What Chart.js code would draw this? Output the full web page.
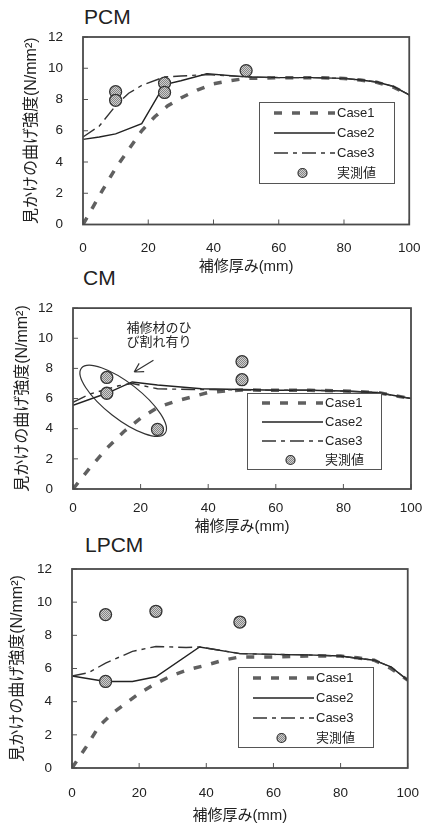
<!DOCTYPE html>
<html>
<head>
<meta charset="utf-8">
<script src="https://cdn.jsdelivr.net/npm/chart.js@4.4.0/dist/chart.umd.min.js"></script>
<style>
  html, body { margin: 0; padding: 0; background: #fff; }
  body { width: 436px; height: 825px; position: relative; overflow: hidden; }
  canvas { position: absolute; left: 0; }
  .ttl { position: absolute; font-family: 'Liberation Sans', Arial, sans-serif; font-size: 21px; line-height: 21px; color: #222; }
</style>
</head>
<body>
<div class="ttl" style="left:84px;top:6px">PCM</div>
<div class="ttl" style="left:83px;top:267px">CM</div>
<div class="ttl" style="left:85px;top:534px">LPCM</div>
<canvas id="c0" width="436" height="280" style="top:0px"></canvas>
<canvas id="c1" width="436" height="260" style="top:280px"></canvas>
<canvas id="c2" width="436" height="285" style="top:540px"></canvas>
<script>
// axis ticks
const xTicks = [0, 20, 40, 60, 80, 100];
const yTicks = [0, 2, 4, 6, 8, 10, 12];
const seriesNames = ['Case1', 'Case2', 'Case3', '実測値'];

// PCM
const pcmCase1X = [0, 3, 6, 10, 14, 18, 22, 26, 30, 35, 40, 45, 50, 60, 70, 80, 85, 90, 95, 100];
const pcmCase1Y = [0, 1.1, 2.2, 3.6, 4.8, 6.0, 6.9, 7.6, 8.1, 8.6, 9.0, 9.2, 9.35, 9.4, 9.4, 9.35, 9.25, 9.1, 8.8, 8.3];
const pcmCase2X = [0, 5, 10, 18, 25, 30, 38, 50, 60, 70, 80, 85, 90, 95, 100];
const pcmCase2Y = [5.45, 5.6, 5.8, 6.45, 8.95, 9.2, 9.65, 9.45, 9.4, 9.4, 9.35, 9.25, 9.12, 8.85, 8.3];
const pcmCase3X = [0, 5, 10, 14, 18, 25, 30, 38, 50, 60, 70, 80, 85, 90, 95, 100];
const pcmCase3Y = [5.6, 6.3, 7.6, 8.4, 8.9, 9.45, 9.5, 9.6, 9.45, 9.4, 9.4, 9.35, 9.25, 9.12, 8.85, 8.3];
const pcmTestX = [10, 10, 25, 25, 50];
const pcmTestY = [8.5, 7.95, 9.05, 8.45, 9.85];

// CM
const cmCase1X = [0, 5, 10, 15, 20, 25, 30, 35, 40, 45, 50, 60, 70, 80, 85, 90, 95, 100];
const cmCase1Y = [0, 1.4, 2.7, 3.8, 4.7, 5.4, 5.8, 6.1, 6.4, 6.5, 6.57, 6.55, 6.55, 6.5, 6.45, 6.4, 6.2, 6.0];
const cmCase2X = [0, 10, 17.5, 25, 38, 50, 60, 70, 80, 85, 90, 95, 100];
const cmCase2Y = [5.55, 6.35, 7.1, 6.9, 6.65, 6.6, 6.55, 6.55, 6.5, 6.45, 6.4, 6.2, 6.0];
const cmCase3X = [0, 5, 13.5, 17.5, 25, 35, 50, 60, 70, 80, 85, 90, 95, 100];
const cmCase3Y = [5.75, 6.3, 6.85, 7.0, 6.65, 6.6, 6.57, 6.55, 6.55, 6.5, 6.45, 6.4, 6.2, 6.0];
const cmTestX = [10, 10, 25, 50, 50];
const cmTestY = [7.4, 6.35, 3.95, 8.45, 7.25];

// LPCM
const lpcmCase1X = [0, 4, 8, 12, 16, 20, 25, 30, 35, 40, 45, 50, 60, 70, 80, 85, 90, 95, 100];
const lpcmCase1Y = [0, 1.2, 2.5, 3.3, 3.9, 4.5, 5.1, 5.6, 5.95, 6.2, 6.5, 6.7, 6.7, 6.75, 6.75, 6.65, 6.5, 6.0, 5.3];
const lpcmCase2X = [0, 10, 18, 25, 38, 50, 60, 70, 80, 85, 90, 95, 100];
const lpcmCase2Y = [5.55, 5.22, 5.22, 5.5, 7.3, 6.9, 6.85, 6.82, 6.75, 6.62, 6.5, 6.1, 5.3];
const lpcmCase3X = [0, 5, 10, 18, 25, 34, 38, 50, 60, 70, 80, 85, 90, 95, 100];
const lpcmCase3Y = [5.55, 5.75, 6.33, 7.03, 7.33, 7.27, 7.3, 6.9, 6.85, 6.82, 6.75, 6.62, 6.5, 6.1, 5.3];
const lpcmTestX = [10, 10, 25, 50];
const lpcmTestY = [9.25, 5.22, 9.45, 8.8];

const latin = "'Liberation Sans', Arial, 'Noto Sans CJK JP', sans-serif";
const jp = "'Liberation Sans', 'Noto Sans CJK JP', sans-serif";
const ink = '#222';

// speckled grey fill for the measured points
const patCanvas = document.createElement('canvas');
patCanvas.width = 2; patCanvas.height = 2;
const pc = patCanvas.getContext('2d');
pc.fillStyle = '#cfcfcf'; pc.fillRect(0, 0, 2, 2);
pc.fillStyle = '#858585'; pc.fillRect(0, 0, 1, 1); pc.fillRect(1, 1, 1, 1);
const dotFill = pc.createPattern(patCanvas, 'repeat');

const styles = [
  { borderColor: '#606060', borderWidth: 3.5, borderDash: [8, 10] },
  { borderColor: '#222', borderWidth: 1.4, borderDash: [] },
  { borderColor: '#333', borderWidth: 1.4, borderDash: [14, 5, 4, 5] },
];

const panels = [
  {
    id: 'c0', top: 0, height: 280,
    plot: { left: 83, right: 419, top: 37, bottom: 224.5 },
    xLabelY: 248, xTitleY: 267, yTitleX: 32,
    lines: [[pcmCase1X, pcmCase1Y], [pcmCase2X, pcmCase2Y], [pcmCase3X, pcmCase3Y]],
    test: [pcmTestX, pcmTestY],
    legend: { x: 259, y: 102, w: 135, h: 81, first: 11, row: 20 },
  },
  {
    id: 'c1', top: 280, height: 260,
    plot: { left: 73, right: 411, top: 301, bottom: 489 },
    xLabelY: 508, xTitleY: 527, yTitleX: 23,
    lines: [[cmCase1X, cmCase1Y], [cmCase2X, cmCase2Y], [cmCase3X, cmCase3Y]],
    test: [cmTestX, cmTestY],
    legend: { x: 247, y: 113, w: 134, h: 76, first: 10, row: 19 },
    note: {
      text: ['補修材のひ', 'び割れ有り'], textAt: [15.8, 10.77], lineGap: 14,
      ellipse: { at: [14.85, 5.85], rx: 53, ry: 18, rot: 38 },
      arrow: { from: [23.8, 8.54], to: [18.1, 7.76] },
    },
  },
  {
    id: 'c2', top: 540, height: 285,
    plot: { left: 72, right: 409, top: 569, bottom: 768 },
    xLabelY: 793, xTitleY: 817, yTitleX: 18,
    lines: [[lpcmCase1X, lpcmCase1Y], [lpcmCase2X, lpcmCase2Y], [lpcmCase3X, lpcmCase3Y]],
    test: [lpcmTestX, lpcmTestY],
    legend: { x: 238, y: 127, w: 135, h: 80, first: 11, row: 20 },
  },
];

const toPts = (xs, ys) => xs.map((x, i) => ({ x: x, y: ys[i] }));

function decor(p) {
  return {
    id: 'decor',
    afterDatasetsDraw(chart) {
      const ctx = chart.ctx;
      const a = chart.chartArea;
      const sx = chart.scales.x, sy = chart.scales.y;
      ctx.save();
      // inward tick marks
      ctx.strokeStyle = '#555';
      ctx.lineWidth = 1;
      ctx.beginPath();
      yTicks.forEach(v => {
        const y = sy.getPixelForValue(v);
        ctx.moveTo(a.left, y); ctx.lineTo(a.left + 5, y);
      });
      xTicks.forEach(v => {
        const x = sx.getPixelForValue(v);
        ctx.moveTo(x, a.bottom); ctx.lineTo(x, a.bottom - 5);
      });
      ctx.stroke();
      // frame
      ctx.strokeStyle = '#4a4a4a';
      ctx.lineWidth = 1.8;
      ctx.strokeRect(a.left, a.top, a.right - a.left, a.bottom - a.top);

      // legend
      const L = p.legend;
      ctx.fillStyle = '#fff';
      ctx.fillRect(L.x, L.y, L.w, L.h);
      ctx.strokeStyle = '#555';
      ctx.lineWidth = 1;
      ctx.strokeRect(L.x + 0.5, L.y + 0.5, L.w, L.h);
      ctx.font = '13px ' + latin;
      ctx.textBaseline = 'middle';
      ctx.textAlign = 'left';
      seriesNames.forEach((name, i) => {
        const y = L.y + L.first + i * L.row;
        const x0 = L.x + 15, x1 = L.x + 76;
        if (i < 3) {
          const s = styles[i];
          ctx.strokeStyle = s.borderColor;
          ctx.lineWidth = s.borderWidth;
          ctx.setLineDash(s.borderDash);
          ctx.beginPath(); ctx.moveTo(x0, y); ctx.lineTo(x1, y); ctx.stroke();
          ctx.setLineDash([]);
        } else {
          ctx.beginPath();
          ctx.arc((x0 + x1) / 2 - 2, y, 4.5, 0, Math.PI * 2);
          ctx.fillStyle = dotFill; ctx.fill();
          ctx.strokeStyle = '#333'; ctx.lineWidth = 1.2; ctx.stroke();
        }
        ctx.fillStyle = ink;
        ctx.fillText(name, L.x + 78, y);
      });

      // annotation (CM only)
      if (p.note) {
        const n = p.note;
        ctx.strokeStyle = '#333';
        ctx.lineWidth = 1.2;
        const e = n.ellipse;
        ctx.beginPath();
        ctx.ellipse(sx.getPixelForValue(e.at[0]), sy.getPixelForValue(e.at[1]), e.rx, e.ry, e.rot * Math.PI / 180, 0, Math.PI * 2);
        ctx.stroke();
        const fx = sx.getPixelForValue(n.arrow.from[0]), fy = sy.getPixelForValue(n.arrow.from[1]);
        const tx = sx.getPixelForValue(n.arrow.to[0]), ty = sy.getPixelForValue(n.arrow.to[1]);
        const ang = Math.atan2(ty - fy, tx - fx);
        ctx.beginPath();
        ctx.moveTo(fx, fy); ctx.lineTo(tx, ty);
        [-0.5, 0.5].forEach(d => {
          ctx.moveTo(tx, ty);
          ctx.lineTo(tx - 10 * Math.cos(ang + d), ty - 10 * Math.sin(ang + d));
        });
        ctx.stroke();
        ctx.fillStyle = ink;
        ctx.font = "13px 'Noto Sans CJK JP', sans-serif";
        const tx0 = sx.getPixelForValue(n.textAt[0]), ty0 = sy.getPixelForValue(n.textAt[1]);
        n.text.forEach((t, i) => ctx.fillText(t, tx0, ty0 + i * n.lineGap));
      }
      ctx.restore();
    }
  };
}

panels.forEach(p => {
  const localBottom = p.plot.bottom - p.top;
  const datasets = p.lines.map((ln, i) => Object.assign({
    label: seriesNames[i],
    data: toPts(ln[0], ln[1]),
    showLine: true,
    pointRadius: 0,
    fill: false,
    tension: 0,
    order: 3 - i,
  }, styles[i]));
  datasets.push({
    label: seriesNames[3],
    data: toPts(p.test[0], p.test[1]),
    showLine: false,
    pointRadius: 6,
    pointBackgroundColor: dotFill,
    pointBorderColor: '#333',
    pointBorderWidth: 1.3,
    order: 0,
  });

  new Chart(document.getElementById(p.id).getContext('2d'), {
    type: 'scatter',
    data: { datasets: datasets },
    options: {
      responsive: false,
      animation: false,
      devicePixelRatio: 1,
      layout: { padding: { left: 0, right: 436 - p.plot.right, top: p.plot.top - p.top, bottom: 0 } },
      plugins: { legend: { display: false }, tooltip: { enabled: false }, title: { display: false } },
      scales: {
        x: {
          type: 'linear', min: 0, max: 100,
          grid: { display: false, drawTicks: false },
          border: { display: false },
          afterBuildTicks: s => { s.ticks = xTicks.map(v => ({ value: v })); },
          afterFit: s => { s.height = p.height - localBottom; },
          ticks: { padding: p.xLabelY - p.plot.bottom - 8, color: ink, font: { family: latin, size: 13.5, lineHeight: 1.2 } },
          title: {
            display: true, text: '補修厚み(mm)', color: ink,
            font: { family: jp, size: 15, lineHeight: 1.2 },
            padding: { top: 0, bottom: Math.max(0, p.height - (p.xTitleY - p.top) - 9) },
          },
        },
        y: {
          type: 'linear', min: 0, max: 12,
          grid: { display: false, drawTicks: false },
          border: { display: false },
          afterBuildTicks: s => { s.ticks = yTicks.map(v => ({ value: v })); },
          afterFit: s => { s.width = p.plot.left; },
          ticks: { padding: 20, color: ink, font: { family: latin, size: 13.5, lineHeight: 1.2 } },
          title: {
            display: true, text: '見かけの曲げ強度(N/mm²)', color: ink,
            font: { family: jp, size: 16, lineHeight: 1.2 },
            padding: { top: p.yTitleX - 9.6, bottom: 0 },
          },
        },
      },
    },
    plugins: [decor(p)],
  });
});
</script>
</body>
</html>
